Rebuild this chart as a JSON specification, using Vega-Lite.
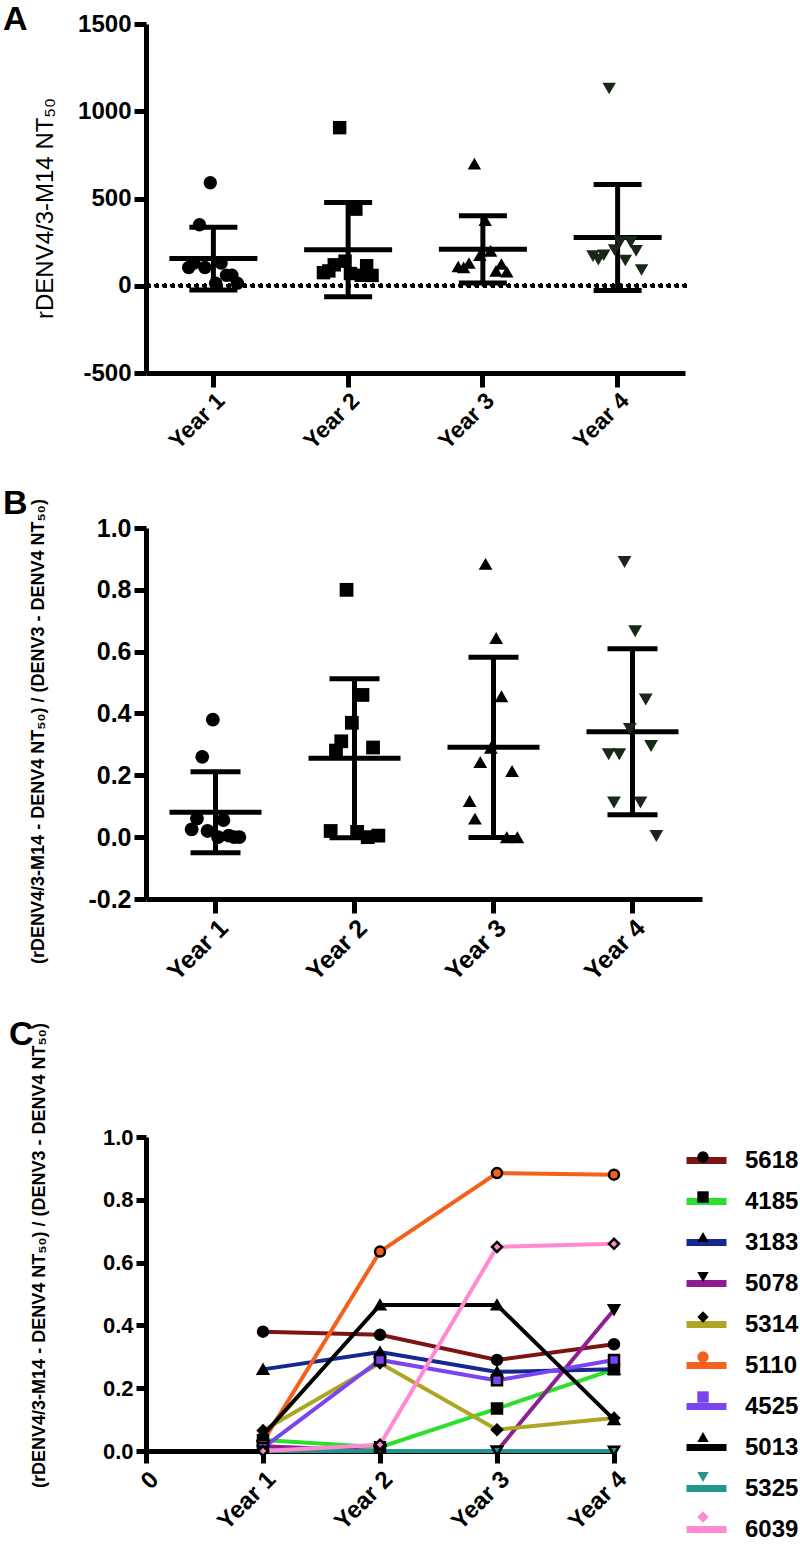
{
  "$schema": "https://vega.github.io/schema/vega-lite/v6.json",
  "background": "white",
  "padding": {"left": 2, "top": 3, "right": 0, "bottom": 0},
  "spacing": 32,
  "resolve": {
    "scale": {"color": "independent", "shape": "independent", "fill": "independent", "stroke": "independent", "xOffset": "independent", "x": "independent", "y": "independent"},
    "legend": {"color": "independent", "shape": "independent", "fill": "independent", "stroke": "independent"}
  },
  "config": {
    "font": "Liberation Sans",
    "view": {"stroke": null},
    "axis": {
      "grid": false,
      "domainColor": "black",
      "domainWidth": 5,
      "tickColor": "black",
      "tickWidth": 5,
      "labelColor": "black",
      "labelFont": "Liberation Sans",
      "labelFontWeight": "bold",
      "titleColor": "black",
      "titleFont": "Liberation Sans"
    },
    "title": {"fontSize": 34, "fontWeight": "bold", "anchor": "start", "frame": "bounds", "color": "black", "font": "Liberation Sans"}
  },
  "datasets": {
    "nt": [
      {"year": "Year 1", "subject": "5618", "value": 590},
      {"year": "Year 1", "subject": "3183", "value": 350},
      {"year": "Year 1", "subject": "5314", "value": 130},
      {"year": "Year 1", "subject": "5013", "value": 130},
      {"year": "Year 1", "subject": "4185", "value": 105},
      {"year": "Year 1", "subject": "5110", "value": 105},
      {"year": "Year 1", "subject": "5078", "value": 60},
      {"year": "Year 1", "subject": "4525", "value": 60},
      {"year": "Year 1", "subject": "5325", "value": 15},
      {"year": "Year 1", "subject": "6039", "value": 15},
      {"year": "Year 2", "subject": "5110", "value": 906},
      {"year": "Year 2", "subject": "5013", "value": 439},
      {"year": "Year 2", "subject": "5618", "value": 141},
      {"year": "Year 2", "subject": "3183", "value": 120},
      {"year": "Year 2", "subject": "4525", "value": 115},
      {"year": "Year 2", "subject": "5314", "value": 85},
      {"year": "Year 2", "subject": "4185", "value": 75},
      {"year": "Year 2", "subject": "6039", "value": 70},
      {"year": "Year 2", "subject": "5078", "value": 60},
      {"year": "Year 2", "subject": "5325", "value": 59},
      {"year": "Year 3", "subject": "5110", "value": 700},
      {"year": "Year 3", "subject": "6039", "value": 375},
      {"year": "Year 3", "subject": "5013", "value": 200},
      {"year": "Year 3", "subject": "5618", "value": 175},
      {"year": "Year 3", "subject": "3183", "value": 130},
      {"year": "Year 3", "subject": "4525", "value": 125},
      {"year": "Year 3", "subject": "4185", "value": 110},
      {"year": "Year 3", "subject": "5314", "value": 105},
      {"year": "Year 3", "subject": "5078", "value": 85},
      {"year": "Year 3", "subject": "5325", "value": 80},
      {"year": "Year 4", "subject": "5110", "value": 1130},
      {"year": "Year 4", "subject": "6039", "value": 250},
      {"year": "Year 4", "subject": "5078", "value": 250},
      {"year": "Year 4", "subject": "5618", "value": 205},
      {"year": "Year 4", "subject": "4525", "value": 200},
      {"year": "Year 4", "subject": "3183", "value": 175},
      {"year": "Year 4", "subject": "4185", "value": 170},
      {"year": "Year 4", "subject": "5314", "value": 150},
      {"year": "Year 4", "subject": "5013", "value": 145},
      {"year": "Year 4", "subject": "5325", "value": 90}
    ],
    "ratio": [
      {"year": "Year 1", "subject": "5618", "value": 0.38},
      {"year": "Year 1", "subject": "3183", "value": 0.26},
      {"year": "Year 1", "subject": "5314", "value": 0.06},
      {"year": "Year 1", "subject": "5013", "value": 0.055},
      {"year": "Year 1", "subject": "4185", "value": 0.025},
      {"year": "Year 1", "subject": "5110", "value": 0.02},
      {"year": "Year 1", "subject": "5078", "value": 0.005},
      {"year": "Year 1", "subject": "4525", "value": 0.0},
      {"year": "Year 1", "subject": "5325", "value": 0.0},
      {"year": "Year 1", "subject": "6039", "value": 0.0},
      {"year": "Year 2", "subject": "5110", "value": 0.80},
      {"year": "Year 2", "subject": "5013", "value": 0.46},
      {"year": "Year 2", "subject": "5618", "value": 0.37},
      {"year": "Year 2", "subject": "3183", "value": 0.31},
      {"year": "Year 2", "subject": "4525", "value": 0.29},
      {"year": "Year 2", "subject": "5314", "value": 0.28},
      {"year": "Year 2", "subject": "4185", "value": 0.02},
      {"year": "Year 2", "subject": "6039", "value": 0.017},
      {"year": "Year 2", "subject": "5078", "value": 0.0},
      {"year": "Year 2", "subject": "5325", "value": 0.005},
      {"year": "Year 3", "subject": "5110", "value": 0.884},
      {"year": "Year 3", "subject": "6039", "value": 0.644},
      {"year": "Year 3", "subject": "5013", "value": 0.456},
      {"year": "Year 3", "subject": "5618", "value": 0.289},
      {"year": "Year 3", "subject": "3183", "value": 0.243},
      {"year": "Year 3", "subject": "4525", "value": 0.214},
      {"year": "Year 3", "subject": "4185", "value": 0.117},
      {"year": "Year 3", "subject": "5314", "value": 0.06},
      {"year": "Year 3", "subject": "5078", "value": 0.0},
      {"year": "Year 3", "subject": "5325", "value": 0.0},
      {"year": "Year 4", "subject": "5110", "value": 0.89},
      {"year": "Year 4", "subject": "6039", "value": 0.666},
      {"year": "Year 4", "subject": "5078", "value": 0.445},
      {"year": "Year 4", "subject": "5618", "value": 0.35},
      {"year": "Year 4", "subject": "4525", "value": 0.295},
      {"year": "Year 4", "subject": "3183", "value": 0.268},
      {"year": "Year 4", "subject": "4185", "value": 0.268},
      {"year": "Year 4", "subject": "5314", "value": 0.112},
      {"year": "Year 4", "subject": "5013", "value": 0.112},
      {"year": "Year 4", "subject": "5325", "value": 0.004}
    ],
    "trend": [
      {"subject": "5618", "year": "Year 1", "value": 0.38},
      {"subject": "5618", "year": "Year 2", "value": 0.37},
      {"subject": "5618", "year": "Year 3", "value": 0.29},
      {"subject": "5618", "year": "Year 4", "value": 0.34},
      {"subject": "4185", "year": "Year 1", "value": 0.035},
      {"subject": "4185", "year": "Year 2", "value": 0.012},
      {"subject": "4185", "year": "Year 3", "value": 0.135},
      {"subject": "4185", "year": "Year 4", "value": 0.26},
      {"subject": "3183", "year": "Year 1", "value": 0.26},
      {"subject": "3183", "year": "Year 2", "value": 0.315},
      {"subject": "3183", "year": "Year 3", "value": 0.252},
      {"subject": "3183", "year": "Year 4", "value": 0.26},
      {"subject": "5078", "year": "Year 1", "value": 0.015},
      {"subject": "5078", "year": "Year 2", "value": 0.0},
      {"subject": "5078", "year": "Year 3", "value": 0.0},
      {"subject": "5078", "year": "Year 4", "value": 0.45},
      {"subject": "5314", "year": "Year 1", "value": 0.065},
      {"subject": "5314", "year": "Year 2", "value": 0.28},
      {"subject": "5314", "year": "Year 3", "value": 0.068},
      {"subject": "5314", "year": "Year 4", "value": 0.105},
      {"subject": "5110", "year": "Year 1", "value": 0.03},
      {"subject": "5110", "year": "Year 2", "value": 0.635},
      {"subject": "5110", "year": "Year 3", "value": 0.885},
      {"subject": "5110", "year": "Year 4", "value": 0.88},
      {"subject": "4525", "year": "Year 1", "value": 0.01},
      {"subject": "4525", "year": "Year 2", "value": 0.29},
      {"subject": "4525", "year": "Year 3", "value": 0.225},
      {"subject": "4525", "year": "Year 4", "value": 0.29},
      {"subject": "5013", "year": "Year 1", "value": 0.05},
      {"subject": "5013", "year": "Year 2", "value": 0.465},
      {"subject": "5013", "year": "Year 3", "value": 0.465},
      {"subject": "5013", "year": "Year 4", "value": 0.10},
      {"subject": "5325", "year": "Year 1", "value": 0.0},
      {"subject": "5325", "year": "Year 2", "value": 0.0},
      {"subject": "5325", "year": "Year 3", "value": 0.0},
      {"subject": "5325", "year": "Year 4", "value": 0.0},
      {"subject": "6039", "year": "Year 1", "value": 0.0},
      {"subject": "6039", "year": "Year 2", "value": 0.02},
      {"subject": "6039", "year": "Year 3", "value": 0.65},
      {"subject": "6039", "year": "Year 4", "value": 0.66}
    ]
  },
  "vconcat": [
    {
      "title": {"text": "A", "dx": -30, "offset": -25},
      "width": 539,
      "height": 349,
      "data": {"name": "nt"},
      "encoding": {
        "x": {
          "field": "year", "type": "nominal",
          "scale": {"type": "band", "paddingInner": 0, "paddingOuter": 0},
          "axis": {"title": null, "labelAngle": -45, "labelFontSize": 23, "tickSize": 14, "labelPadding": 2}
        },
        "y": {
          "field": "value", "type": "quantitative",
          "scale": {"domain": [-500, 1500], "nice": false},
          "axis": {"values": [-500, 0, 500, 1000, 1500], "format": "d", "labelFontSize": 24, "tickSize": 12, "labelPadding": 3,
                   "labelExpr": "replace(datum.label, '−', '-')",
                   "title": "rDENV4/3-M14 NT₅₀", "titleFontSize": 24, "titleFontWeight": "normal", "titleX": -89, "titleY": 184}
        }
      },
      "layer": [
        {
          "mark": {"type": "rule", "color": "black", "strokeWidth": 4, "strokeDash": [0.5, 7.5], "strokeCap": "round"},
          "encoding": {"x": null, "y": {"datum": 0, "type": "quantitative"}}
        },
        {
          "mark": {"type": "errorbar", "extent": "stdev", "color": "black",
                   "ticks": {"size": 48, "thickness": 5, "color": "black", "opacity": 1},
                   "rule": {"strokeWidth": 5, "color": "black", "opacity": 1}},
          "encoding": {"y": {"field": "value", "type": "quantitative"}}
        },
        {
          "mark": {"type": "tick", "color": "black", "thickness": 5, "size": 88, "opacity": 1},
          "encoding": {"y": {"aggregate": "mean", "field": "value", "type": "quantitative"}}
        },
        {
          "mark": {"type": "point", "filled": true, "size": 180, "opacity": 1},
          "encoding": {
            "xOffset": {"field": "subject", "type": "nominal",
                        "scale": {"domain": ["4185", "5314", "3183", "5110", "5618", "6039", "5013", "5078", "4525", "5325"], "range": [40, 94]}},
            "shape": {"field": "year", "type": "nominal", "legend": null,
                      "scale": {"domain": ["Year 1", "Year 2", "Year 3", "Year 4"], "range": ["circle", "square", "triangle-up", "triangle-down"]}},
            "color": {"field": "year", "type": "nominal", "legend": null,
                      "scale": {"domain": ["Year 1", "Year 2", "Year 3", "Year 4"], "range": ["#000000", "#000000", "#000000", "#172817"]}}
          }
        }
      ]
    },
    {
      "title": {"text": "B", "dx": -26, "offset": -22},
      "width": 556,
      "height": 371,
      "data": {"name": "ratio"},
      "encoding": {
        "x": {
          "field": "year", "type": "nominal",
          "scale": {"type": "band", "paddingInner": 0, "paddingOuter": 0},
          "axis": {"title": null, "labelAngle": -45, "labelFontSize": 25, "tickSize": 14, "labelPadding": 2}
        },
        "y": {
          "field": "value", "type": "quantitative",
          "scale": {"domain": [-0.2, 1.0], "nice": false},
          "axis": {"values": [-0.2, 0, 0.2, 0.4, 0.6, 0.8, 1.0], "format": ".1f", "labelFontSize": 25, "tickSize": 12, "labelPadding": 3,
                   "labelExpr": "replace(datum.label, '−', '-')",
                   "title": "(rDENV4/3-M14 - DENV4 NT₅₀) / (DENV3 - DENV4 NT₅₀)", "titleFontSize": 18, "titleFontWeight": "bold",
                   "titleX": -99, "titleY": 203}
        }
      },
      "layer": [
        {
          "mark": {"type": "errorbar", "extent": "stdev", "color": "black",
                   "ticks": {"size": 50, "thickness": 5, "color": "black", "opacity": 1},
                   "rule": {"strokeWidth": 5, "color": "black", "opacity": 1}},
          "encoding": {"y": {"field": "value", "type": "quantitative"}}
        },
        {
          "mark": {"type": "tick", "color": "black", "thickness": 5, "size": 92, "opacity": 1},
          "encoding": {"y": {"aggregate": "mean", "field": "value", "type": "quantitative"}}
        },
        {
          "mark": {"type": "point", "filled": true, "size": 190, "opacity": 1},
          "encoding": {
            "xOffset": {"field": "subject", "type": "nominal",
                        "scale": {"domain": ["4185", "5314", "3183", "5110", "5618", "6039", "5013", "5078", "4525", "5325"], "range": [43, 96]}},
            "shape": {"field": "year", "type": "nominal", "legend": null,
                      "scale": {"domain": ["Year 1", "Year 2", "Year 3", "Year 4"], "range": ["circle", "square", "triangle-up", "triangle-down"]}},
            "color": {"field": "year", "type": "nominal", "legend": null,
                      "scale": {"domain": ["Year 1", "Year 2", "Year 3", "Year 4"], "range": ["#000000", "#000000", "#000000", "#172817"]}}
          }
        }
      ]
    },
    {
      "title": {"text": "C", "dx": -21, "offset": -29},
      "width": 468,
      "height": 314,
      "data": {"name": "trend"},
      "encoding": {
        "x": {
          "field": "year", "type": "nominal",
          "scale": {"type": "point", "domain": ["0", "Year 1", "Year 2", "Year 3", "Year 4"], "padding": 0},
          "axis": {"title": null, "labelFontSize": 24, "tickSize": 12, "labelPadding": 4, "labelOverlap": false, "labelBound": false,
                   "labelAngle": -45,
                   "encode": {"labels": {
                     "angle": {"value": {"expr": "datum.value === '0' ? 0 : -45"}},
                     "align": {"value": {"expr": "datum.value === '0' ? 'center' : 'right'"}}
                   }}}
        },
        "y": {
          "field": "value", "type": "quantitative",
          "scale": {"domain": [0, 1.0], "nice": false},
          "axis": {"values": [0, 0.2, 0.4, 0.6, 0.8, 1.0], "format": ".1f", "labelFontSize": 22, "tickSize": 10, "labelPadding": 3,
                   "title": "(rDENV4/3-M14 - DENV4 NT₅₀) / (DENV3 - DENV4 NT₅₀)", "titleFontSize": 18, "titleFontWeight": "bold",
                   "titleX": -98, "titleY": 118}
        }
      },
      "layer": [
        {
          "mark": {"type": "line", "strokeWidth": 4},
          "encoding": {
            "stroke": {
              "field": "subject", "type": "nominal",
              "sort": ["5618", "4185", "3183", "5078", "5314", "5110", "4525", "5013", "5325", "6039"],
              "scale": {"range": ["#7d1414", "#2be02b", "#14288f", "#8f1f8f", "#ada524", "#f5601c", "#7a45ee", "#000000", "#20968f", "#ff8ad2"]},
              "legend": {
                "title": null, "orient": "none", "legendX": 537, "legendY": 0,
                "symbolType": "stroke", "symbolSize": 1600, "symbolStrokeWidth": 7,
                "labelFontSize": 24, "labelFontWeight": "bold", "labelColor": "black", "labelFont": "Liberation Sans",
                "labelOffset": 15, "rowPadding": 3
              }
            }
          }
        },
        {
          "mark": {"type": "point", "filled": true, "size": 100, "opacity": 1, "stroke": "black", "strokeWidth": 2.5},
          "encoding": {
            "fill": {
              "field": "subject", "type": "nominal",
              "scale": {"domain": ["5618", "4185", "3183", "5078", "5314", "5110", "4525", "5013", "5325", "6039"],
                        "range": ["#000000", "#000000", "#000000", "#000000", "#000000", "#f5601c", "#7a45ee", "#000000", "#20968f", "#ff8ad2"]},
              "legend": {
                "title": null, "orient": "none", "legendX": 537, "legendY": 0,
                "symbolSize": 130, "symbolStrokeColor": "black", "symbolStrokeWidth": 2.5,
                "labelExpr": "''", "labelFontSize": 40, "labelOffset": 15, "rowPadding": 0
              }
            },
            "shape": {
              "field": "subject", "type": "nominal",
              "scale": {"domain": ["5618", "4185", "3183", "5078", "5314", "5110", "4525", "5013", "5325", "6039"],
                        "range": ["circle", "square", "triangle-up", "triangle-down", "diamond", "circle", "square", "triangle-up", "triangle-down", "diamond"]},
              "legend": {
                "title": null, "orient": "none", "legendX": 537, "legendY": 0,
                "symbolSize": 130, "symbolStrokeColor": "black", "symbolStrokeWidth": 2.5,
                "labelExpr": "''", "labelFontSize": 40, "labelOffset": 15, "rowPadding": 0
              }
            }
          }
        }
      ]
    }
  ]
}
